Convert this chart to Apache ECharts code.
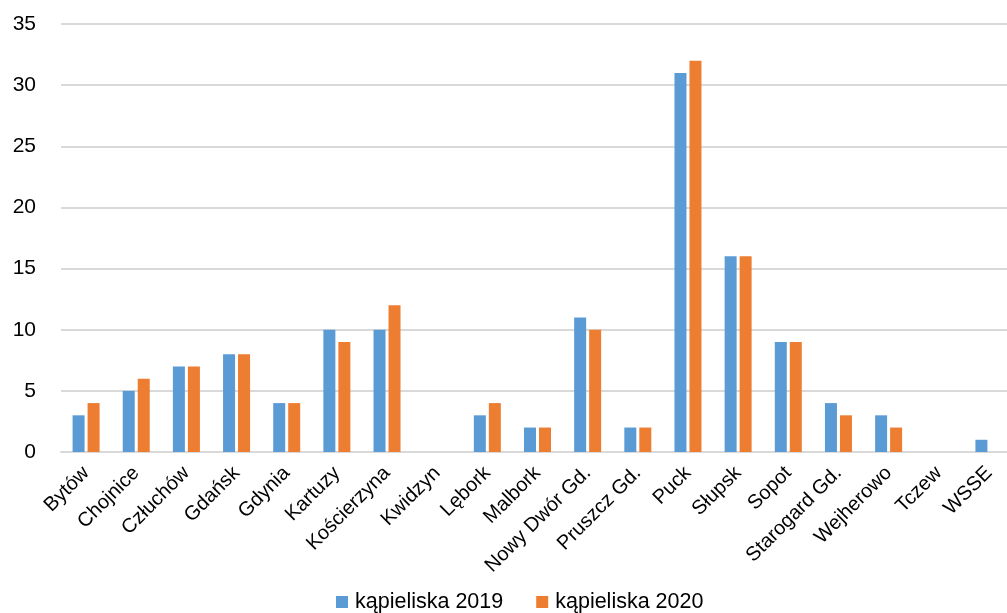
<!DOCTYPE html>
<html>
<head>
<meta charset="utf-8">
<script src="https://cdn.jsdelivr.net/npm/echarts@6/dist/echarts.min.js"></script>
<style>
html,body{margin:0;padding:0;background:#fff;overflow:hidden;}
/* plot area runs slightly past the right edge of the page */
#chart{width:1014px;height:613px;}
</style>
</head>
<body>
<div id="chart"></div>
<script>
// Powiaty (districts) shown on the category axis
const districts = ['Bytów', 'Chojnice', 'Człuchów', 'Gdańsk', 'Gdynia', 'Kartuzy', 'Kościerzyna', 'Kwidzyn', 'Lębork', 'Malbork', 'Nowy Dwór Gd.', 'Pruszcz Gd.', 'Puck', 'Słupsk', 'Sopot', 'Starogard Gd.', 'Wejherowo', 'Tczew', 'WSSE'];
// Number of bathing sites per district
const sites2019 = [3, 5, 7, 8, 4, 10, 10, 0, 3, 2, 11, 2, 31, 16, 9, 4, 3, 0, 1];
const sites2020 = [4, 6, 7, 8, 4, 9, 12, 0, 4, 2, 10, 2, 32, 16, 9, 3, 2, 0, 0];
const seriesNames = ['kąpieliska 2019', 'kąpieliska 2020'];

const chart = echarts.init(document.getElementById('chart'), null, {renderer: 'canvas'});
const font = 'Liberation Sans, Arial, sans-serif';
chart.setOption({
  animation: false,
  textStyle: {fontFamily: font},
  grid: {left: 61, right: 0, top: 24, bottom: 161},
  legend: {
    bottom: 0,
    left: 336,
    padding: 0,
    itemWidth: 12,
    itemHeight: 12,
    itemGap: 33,
    icon: 'rect',
    textStyle: {fontSize: 21.5, color: '#000', fontFamily: font, padding: [0, 0, 0, 2]},
    data: seriesNames
  },
  xAxis: {
    type: 'category',
    data: districts,
    axisLine: {show: true, lineStyle: {color: '#d9d9d9', width: 2}},
    axisTick: {show: false},
    axisLabel: {
      interval: 0,
      rotate: 45,
      fontSize: 20,
      color: '#000',
      margin: 18,
      fontFamily: font
    }
  },
  yAxis: {
    type: 'value',
    min: 0,
    max: 35,
    interval: 5,
    axisLine: {show: false},
    axisTick: {show: false},
    splitLine: {lineStyle: {color: '#d9d9d9', width: 2}},
    axisLabel: {fontSize: 21, color: '#000', margin: 25, fontFamily: font}
  },
  series: [
    {
      name: seriesNames[0],
      type: 'bar',
      data: sites2019,
      barWidth: 12,
      barGap: '25%',
      itemStyle: {color: '#5b9bd5'}
    },
    {
      name: seriesNames[1],
      type: 'bar',
      data: sites2020,
      barWidth: 12,
      itemStyle: {color: '#ed7d31'}
    }
  ]
});
</script>
</body>
</html>
